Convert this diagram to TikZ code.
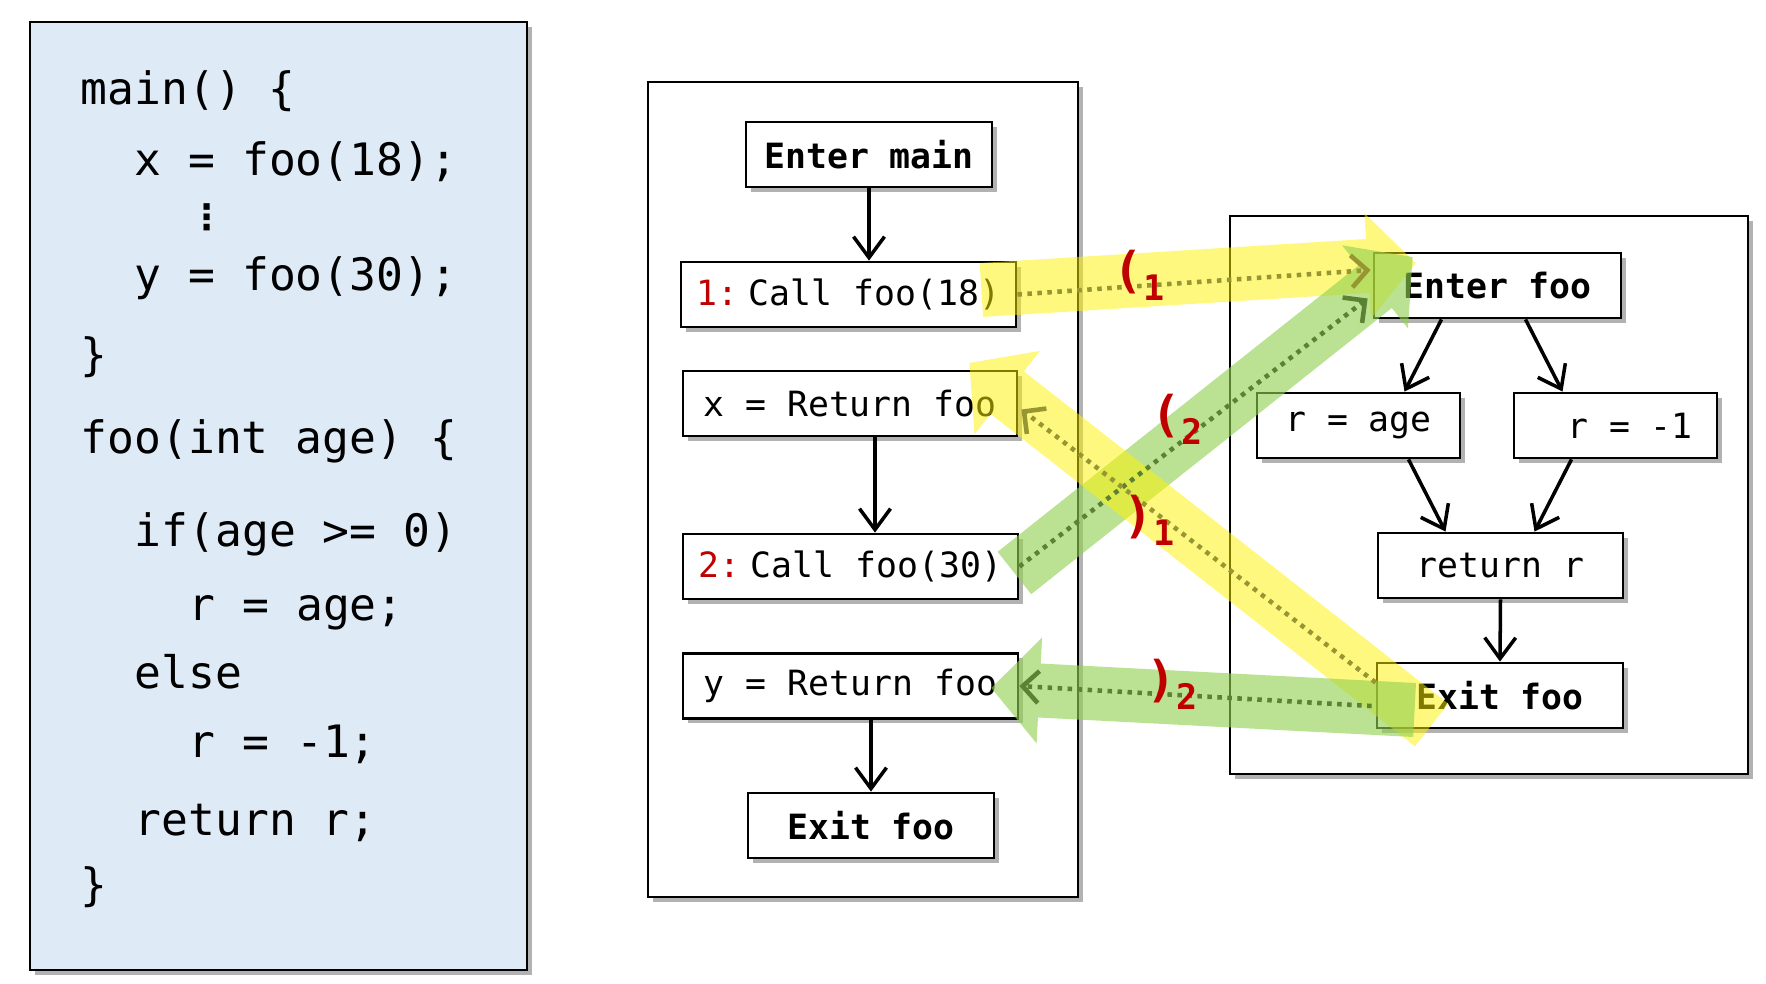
\documentclass[tikz,border=0pt]{standalone}
\usepackage{fontspec}
\setmonofont{DejaVu Sans Mono}
\newfontfamily\symfont{DejaVu Sans}
\usetikzlibrary{calc,arrows.meta,shadows}

\definecolor{codeblue}{HTML}{DEEBF7}
\definecolor{hlgreen}{HTML}{92D050}
\definecolor{labelred}{HTML}{C00000}
\definecolor{dotolive}{RGB}{150,150,50}
\definecolor{dotgreen}{RGB}{90,130,50}

\newcommand{\codefont}{\ttfamily\fontsize{12.7}{15}\selectfont}
\newcommand{\cfgfont}{\ttfamily\fontsize{9.9}{12}\selectfont}
\newcommand{\nest}[2]{\textcolor{labelred}{\ttfamily\bfseries\fontsize{14}{14}\selectfont #1\raisebox{-0.13cm}{\fontsize{10}{10}\selectfont #2}}}

% wide translucent arrow: colour, tail, tip
\newcommand{\fatarrow}[3]{%
  \coordinate (fa-base) at ($(#3)!0.48cm!(#2)$);
  \fill[#1] ($(#2)!0.27cm!90:(#3)$) -- ($(fa-base)!0.27cm!90:(#3)$)
    -- ($(fa-base)!0.53cm!90:(#3)$) -- (#3)
    -- ($(fa-base)!0.53cm!-90:(#3)$) -- ($(fa-base)!0.27cm!-90:(#3)$)
    -- ($(#2)!0.27cm!-90:(#3)$) -- cycle;}

\tikzset{
  softshadow/.style={drop shadow={shadow xshift=0.045cm, shadow yshift=-0.045cm, opacity=0.3, fill=black}},
  cfgframe/.style={draw, line width=0.8pt, fill=white, softshadow},
  cfgbox/.style={draw, line width=0.8pt, fill=white, softshadow, minimum height=0.65cm, inner sep=0pt, font=\cfgfont},
  flow/.style={line width=1pt, -{Straight Barb[length=2.1mm,width=3.1mm]}},
  codeline/.style={anchor=base west, inner sep=0pt, font=\codefont},
  tracearrow/.style={line width=1.3pt, dash pattern=on 0.45mm off 0.55mm, -{Straight Barb[length=1.6mm,width=3.2mm]}}
}

\begin{document}
\begin{tikzpicture}
	\useasboundingbox (0,0) rectangle (17.66,-9.84);

	% source code
	\draw[cfgframe, fill=codeblue] (0.30,-0.22) rectangle (5.27,-9.70);
	\node[codeline] (code1) at (0.80,-1.04) {main() \{};
	\node[codeline] (code2) at (1.34,-1.75) {x = foo(18);};
	\node[inner sep=0pt] (code3) at (2.07,-2.17) {\symfont\bfseries\fontsize{10}{10}\selectfont ⋮};
	\node[codeline] (code4) at (1.34,-2.90) {y = foo(30);};
	\node[codeline] (code5) at (0.80,-3.70) {\}};
	\node[codeline] (code6) at (0.80,-4.53) {foo(int age) \{};
	\node[codeline] (code7) at (1.34,-5.46) {if(age >= 0)};
	\node[codeline] (code8) at (1.88,-6.20) {r = age;};
	\node[codeline] (code9) at (1.34,-6.88) {else};
	\node[codeline] (code10) at (1.88,-7.57) {r = -1;};
	\node[codeline] (code11) at (1.34,-8.35) {return r;};
	\node[codeline] (code12) at (0.80,-9.00) {\}};

	% main
	\draw[cfgframe] (6.48,-0.82) rectangle (10.78,-8.97);
	\node[cfgbox, minimum width=2.46cm, font=\cfgfont\bfseries] (entermain) at (8.69,-1.545) {Enter main};
	\node[cfgbox, minimum width=3.35cm] (call1) at (8.485,-2.945) {\textcolor{labelred}{1:}\hspace{0.3em}Call foo(18)};
	\node[cfgbox, minimum width=3.34cm] (xret) at (8.50,-4.035) {x = Return foo};
	\node[cfgbox, minimum width=3.35cm] (call2) at (8.505,-5.665) {\textcolor{labelred}{2:}\hspace{0.3em}Call foo(30)};
	\node[cfgbox, minimum width=3.35cm] (yret) at (8.505,-6.86) {y = Return foo};
	\node[cfgbox, minimum width=2.46cm, font=\cfgfont\bfseries] (exitmain) at (8.71,-8.255) {Exit foo};

	\draw[flow] (entermain.south) -- (entermain.south |- call1.north);
	\draw[flow] ([xshift=0.25cm]xret.south) -- ([xshift=0.25cm]xret.south |- call2.north);
	\draw[flow] (exitmain.north |- yret.south) -- (exitmain.north);

	% foo
	\draw[cfgframe] (12.30,-2.16) rectangle (17.48,-7.74);
	\node[cfgbox, minimum width=2.47cm, font=\cfgfont\bfseries] (enterfoo) at (14.975,-2.855) {Enter foo};
	\node[cfgbox, minimum width=2.03cm] (rage) at (13.585,-4.255) {r = age};
	\node[cfgbox, minimum width=2.03cm] (rneg) at (16.155,-4.255) {\hspace*{0.29cm}r = -1};
	\node[cfgbox, minimum width=2.45cm] (retr) at (15.005,-5.655) {return r};
	\node[cfgbox, minimum width=2.46cm, font=\cfgfont\bfseries] (exitfoo) at (15.00,-6.955) {Exit foo};

	\draw[flow] ([xshift=-0.56cm]enterfoo.south) -- ([xshift=0.46cm]rage.north);
	\draw[flow] ([xshift=0.28cm]enterfoo.south) -- ([xshift=-0.53cm]rneg.north);
	\draw[flow] ([xshift=0.50cm]rage.south) -- ([xshift=-0.55cm]retr.north);
	\draw[flow] ([xshift=-0.44cm]rneg.south) -- ([xshift=0.34cm]retr.north);
	\draw[flow] (retr.south) -- (exitfoo.north);

	% calls and returns
	\coordinate (hl1s) at ($(call1.east)+(-0.36,0.045)$);
	\coordinate (hl1e) at ($(enterfoo.west)+(0.43,0.225)$);
	\coordinate (hl2s) at ($(call2.east)+(-0.05,-0.065)$);
	\coordinate (hl2e) at ($(enterfoo.west)+(0.40,0.285)$);
	\coordinate (hl3s) at ($(exitfoo.west)+(0.56,-0.295)$);
	\coordinate (hl3e) at ($(xret.east)+(-0.49,0.405)$);
	\coordinate (hl4s) at ($(exitfoo.west)+(0.39,-0.145)$);
	\coordinate (hl4e) at ($(yret.east)+(-0.28,-0.02)$);
	\begin{scope}[fill opacity=0.5]
		\fatarrow{yellow}{hl1s}{hl1e}
		\fatarrow{hlgreen, fill opacity=0.62}{hl2s}{hl2e}
		\fatarrow{yellow}{hl3s}{hl3e}
		\fatarrow{hlgreen, fill opacity=0.62}{hl4s}{hl4e}
	\end{scope}

	\coordinate (in1) at ($(enterfoo.west)+(-0.02,0.155)$);
	\coordinate (in2) at ($(enterfoo.west)+(-0.05,-0.13)$);
	\coordinate (out1) at ($(exitfoo.west)+(0,0.13)$);
	\coordinate (out2) at ($(exitfoo.west)+(-0.04,-0.105)$);
	\coordinate (back1) at ($(xret.east)+(0.03,-0.06)$);
	\draw[tracearrow, draw=dotolive] (call1.east) -- (in1);
	\draw[tracearrow, draw=dotgreen] (call2.east) -- (in2);
	\draw[tracearrow, draw=dotolive] (out1) -- (back1);
	\draw[tracearrow, draw=dotgreen] (out2) -- (yret.east);

	\node[anchor=base west, inner sep=0pt] (open1) at (11.13,-2.87) {\nest{(}{1}};
	\node[anchor=base west, inner sep=0pt] (open2) at (11.51,-4.31) {\nest{(}{2}};
	\node[anchor=base west, inner sep=0pt] (close1) at (11.23,-5.32) {\nest{)}{1}};
	\node[anchor=base west, inner sep=0pt] (close2) at (11.46,-6.96) {\nest{)}{2}};
\end{tikzpicture}
\end{document}
